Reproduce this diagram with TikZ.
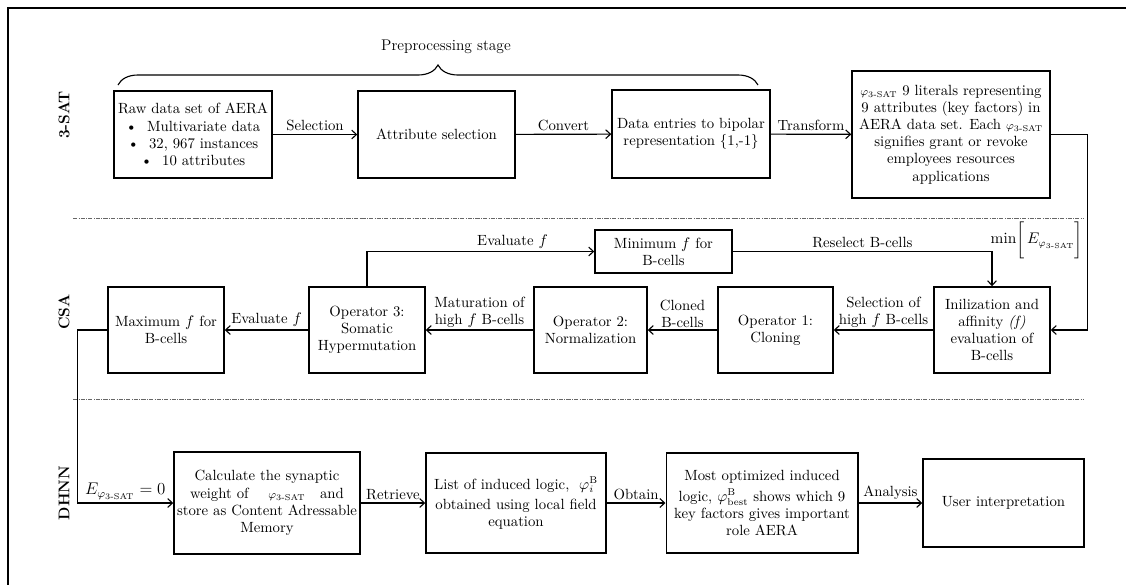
\documentclass[tikz,border=0pt]{standalone}
\usepackage{amsmath}
\usepackage{xcolor}
\usepackage{tikz}
\usetikzlibrary{arrows.meta,decorations.pathreplacing}
\tikzset{
  flowarrow/.style={-{Straight Barb[length=1.2mm,width=2.2mm]}, line width=0.8pt,
    draw=black},
  flowbox/.style={draw=black, line width=1pt, align=center, inner sep=1pt,
    font=\fontsize{10.5}{12.2}\selectfont},
  flowlabel/.style={font=\fontsize{10.5}{12.2}\selectfont, align=center,
    inner sep=2pt},
  flowsep/.style={densely dash dot, line width=0.4pt, draw=black!60},
  flowstage/.style={font=\fontsize{11}{13}\selectfont\bfseries, rotate=90}
}
\newcommand{\phisat}{\varphi_{\text{3-SAT}}}

\begin{document}
\begin{tikzpicture}[x=0.25mm,y=-0.25mm]
  \useasboundingbox (0,0) rectangle (1126,585);
  \draw[line width=2pt] (8,585) -- (8,8) -- (1126,8);

  % stage names
  \node[flowstage] (satstage) at (64,115) {3-SAT};
  \node[flowstage] (csastage) at (64,312) {CSA};
  \node[flowstage] (hnnstage) at (64,493) {DHNN};

  \draw[flowsep] (73,218) -- (1083,218);
  \draw[flowsep] (73,399) -- (1083,399);

  % 3-SAT row
  \node[flowbox, minimum width=39.5mm, minimum height=21.75mm] (rawdata)
    at (193,134.5) {Raw data set of AERA\\ \textbullet\ \ Multivariate data\\
    \textbullet\ \ 32, 967 instances\\ \textbullet\ \ 10 attributes};
  \node[flowbox, minimum width=39.25mm, minimum height=21.75mm] (attrsel)
    at (436.5,134.5) {Attribute selection};
  \node[flowbox, minimum width=39.5mm, minimum height=22mm] (bipolar)
    at (691,134) {Data entries to bipolar\\representation \{1,-1\}};
  \node[flowbox, minimum width=49.5mm, minimum height=31.75mm] (satlogic)
    at (951,134.5) {{\footnotesize$\phisat$} 9 literals representing\\
    9 attributes (key factors) in\\AERA data set. Each {\footnotesize$\phisat$}\\
    signifies grant or revoke\\employees resources\\applications};

  \coordinate (bracel) at (118,85);
  \coordinate (bracer) at (758,85);
  \draw[line width=0.8pt, decorate, decoration={brace, amplitude=5mm}]
    (bracel) -- (bracer);
  \node[flowlabel, font=\fontsize{11}{13}\selectfont] (prestage) at (446,47)
    {Preprocessing stage};

  \draw[flowarrow] (rawdata) -- node[flowlabel, above] {Selection} (attrsel);
  \draw[flowarrow] (attrsel) -- node[flowlabel, above] {Convert} (bipolar);
  \draw[flowarrow] (bipolar) -- node[flowlabel, above] {Transform} (satlogic);

  % CSA row
  \node[flowbox, minimum width=34.25mm, minimum height=10.75mm] (minaff)
    at (663.5,251.5) {Minimum $f$ for\\B-cells};
  \node[flowbox, minimum width=29mm, minimum height=21.5mm] (initaff)
    at (992,330) {Inilization and\\affinity \textit{(f)}\\evaluation of\\B-cells};
  \node[flowbox, minimum width=28.75mm, minimum height=21.5mm] (cloning)
    at (775.5,330) {Operator 1:\\Cloning};
  \node[flowbox, minimum width=28.25mm, minimum height=21.5mm] (normal)
    at (590.5,330) {Operator 2:\\Normalization};
  \node[flowbox, minimum width=29mm, minimum height=21.5mm] (hypermut)
    at (367,330) {Operator 3:\\Somatic\\Hypermutation};
  \node[flowbox, minimum width=29mm, minimum height=21.5mm] (maxaff)
    at (166,330) {Maximum $f$ for\\B-cells};

  \draw[flowarrow] (satlogic.east) -- ++(37,0) |- node[flowlabel, pos=0.27,
    left, inner sep=3pt] {$\min\biggl[\,E_{\phisat}\biggr]$} (initaff.east);
  \draw[flowarrow] (initaff) -- node[flowlabel, above, inner sep=1pt]
    {Selection of\\high $f$ B-cells} (cloning);
  \draw[flowarrow] (cloning) -- node[flowlabel, above, inner sep=1pt]
    {Cloned\\B-cells} (normal);
  \draw[flowarrow] (normal) -- node[flowlabel, above, inner sep=1pt]
    {Maturation of\\high $f$ B-cells} (hypermut);
  \draw[flowarrow] (hypermut) -- node[flowlabel, above] {Evaluate $f$}
    (maxaff);
  \draw[flowarrow] (hypermut.north) |- node[flowlabel, pos=0.82, above]
    {Evaluate $f$} (minaff.west);
  \draw[flowarrow] (minaff.east) -| node[flowlabel, pos=0.25, above]
    {Reselect B-cells} (initaff.north);

  % DHNN row
  \node[flowbox, minimum width=46.5mm, minimum height=25.5mm] (synweight)
    at (267,503) {Calculate the synaptic\\weight of \quad{\footnotesize$\phisat$}\quad
    and\\store as Content Adressable\\Memory};
  \node[flowbox, minimum width=45mm, minimum height=25mm] (induced)
    at (516,503) {List of induced logic, \ $\varphi_i^{\mathrm{B}}$\\[2pt]obtained
    using local field\\equation};
  \node[flowbox, minimum width=47.9mm, minimum height=25mm] (bestlogic)
    at (762,503) {Most optimized induced\\[3pt]logic,
    $\varphi_{\mathrm{best}}^{\mathrm{B}}$ shows which 9\\key factors gives
    important\\role AERA};
  \node[flowbox, minimum width=40.25mm, minimum height=22mm] (userint)
    at (1003.5,503) {User interpretation};

  \draw[flowarrow] (maxaff.west) -- ++(-30,0) |- node[flowlabel, pos=0.75,
    above, font=\fontsize{12}{14}\selectfont] {$E_{\phisat}=0$} (synweight.west);
  \draw[flowarrow] (synweight) -- node[flowlabel, above] {Retrieve} (induced);
  \draw[flowarrow] (induced) -- node[flowlabel, above] {Obtain} (bestlogic);
  \draw[flowarrow] (bestlogic) -- node[flowlabel, above] {Analysis} (userint);
\end{tikzpicture}
\end{document}
